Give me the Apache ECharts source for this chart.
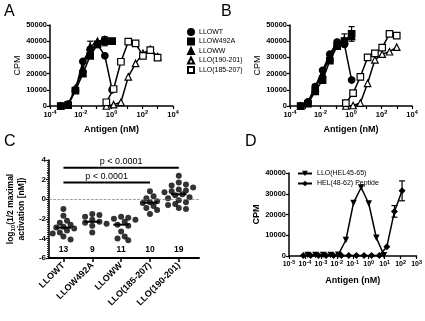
<!DOCTYPE html>
<html>
<head>
<meta charset="utf-8">
<script src="https://cdn.jsdelivr.net/npm/echarts@6/dist/echarts.min.js"></script>
<style>
  html, body { margin: 0; padding: 0; background: #fff; }
  #chart { width: 425px; height: 321px; }
</style>
</head>
<body>
<div id="chart"></div>
<script>
// doses (nM), 3-fold dilutions
const doseLLOW = [0.0005, 0.0015, 0.0045, 0.0137, 0.041, 0.123, 0.37, 1.1];
const dosePep = [0.46, 1.37, 4.1, 12.3, 37, 111, 333, 1000];

// panel A (CPM)
const aWT = [0, 1200, 10000, 27500, 35000, 38000, 31000, 10000];
const aW492A = [0, 500, 9500, 20000, 31000, 38000, 40000, 40000];
const aWW = [0, 800, 11000, 23000, 36500, 40000, 41000];
const a190 = [0, 800, 2300, 18000, 26300, 32500, 35000, 30500];
const a185 = [2300, 10500, 27300, 39700, 38700, 31000, 34500, 29800];
const aW492Aerr = [0, 0, 0, 0, 0, 0, 2800, 0];
const aWWerr = [0, 0, 0, 0, 3500, 0, 0];

// panel B (CPM)
const bWT = [0, 2500, 12000, 22000, 32000, 39500, 38000, 16000];
const bW492A = [0, 1500, 9000, 16000, 28000, 37000, 40000, 44500];
const bWW = [0, 2000, 11000, 20000, 30000, 38000, 41000, 43000];
const b190 = [0, 300, 1800, 14000, 28500, 32000, 33500, 36300];
const b185 = [1800, 8000, 18000, 30000, 32500, 36000, 44500, 43500];
const bW492Aerr = [0, 0, 0, 0, 0, 0, 0, 4500];
const bWWerr = [0, 0, 0, 3000, 0, 0, 3500, 0];

// panel C: log10(1/2 maximal activation [nM])
const cCats = ['LLOWT', 'LLOW492A', 'LLOWW', 'LLO(185-207)', 'LLO(190-201)'];
const cWT = [-1.0, -1.7, -2.2, -2.4, -2.6, -2.8, -2.9, -3.0, -3.2, -3.4, -3.5, -3.8, -4.1];
const cW492A = [-1.5, -1.6, -1.8, -2.1, -2.3, -2.4, -2.5, -2.7, -3.4];
const cWW = [-1.8, -1.9, -2.0, -2.1, -2.3, -2.6, -2.7, -3.3, -3.8, -4.0, -4.2];
const c185 = [0.8, 0.3, 0.1, -0.2, -0.3, -0.4, -0.7, -0.9, -1.1, -1.5];
const c190 = [2.4, 1.7, 1.5, 1.4, 1.2, 1.0, 0.9, 0.8, 0.7, 0.5, 0.4, 0.2, 0.1, -0.1, -0.3, -0.5, -0.6, -0.9, -1.0];
const cGroups = [cWT, cW492A, cWW, c185, c190];
const pBrackets = [[1, 5, 3.2], [1, 4, 1.7]];
const pTexts = ['p < 0.0001', 'p < 0.0001'];

// panel D (CPM)
const doseHELLLO = [0.00015, 0.00046, 0.00137, 0.0041, 0.0123, 0.037, 0.111, 0.333, 1, 3, 9];
const dLLO = [500, 500, 500, 500, 600, 7700, 25600, 33000, 25300, 8800, 400];
const doseHELpep = [0.000078, 0.00023, 0.0007, 0.0021, 0.0063, 0.019, 0.056, 0.17, 0.51, 1.5, 4.6, 13.7, 41, 123];
const dHEL = [300, 300, 300, 300, 300, 300, 300, 300, 300, 300, 200, 4500, 21500, 31400];
const dHELerr = [0, 0, 0, 0, 0, 0, 0, 0, 0, 0, 0, 0, 2800, 4800];

const FONT = "'Liberation Sans', Arial, sans-serif";
const lg = Math.log10;
const pairs = (dose, vals) => vals.map((v, i) => [lg(dose[i]), v]);
const errData = (dose, vals, errs) => vals.map((v, i) => [lg(dose[i]), v - errs[i], v + errs[i]]).filter((d, i) => errs[i] > 0);

const supRich = {
  s: { fontSize: 5.5, fontWeight: 'bold', fontFamily: FONT, verticalAlign: 'bottom', padding: [0, 0, 5, 0] }
};
const powLabel = v => '10{s|' + v + '}';

function xLog(grid, min, max, labelStep, fs) {
  const ticks = [];
  for (let t = min; t <= max; t++) ticks.push(t);
  return {
    type: 'value', gridIndex: grid, min: min, max: max, interval: labelStep,
    name: 'Antigen (nM)', nameLocation: 'middle', nameGap: 19,
    nameTextStyle: { fontFamily: FONT, fontSize: 9, fontWeight: 'bold', color: '#000' },
    axisLine: { onZero: false, lineStyle: { color: '#000', width: 1.5 } },
    axisTick: { customValues: ticks, length: 3, lineStyle: { color: '#000', width: 1.2 } },
    axisLabel: { formatter: powLabel, fontFamily: FONT, fontSize: fs, fontWeight: 'bold', color: '#000', margin: 3, rich: supRich },
    splitLine: { show: false }
  };
}

function yCPM(grid, max, bold) {
  return {
    type: 'value', gridIndex: grid, min: 0, max: max, interval: 10000,
    name: 'CPM', nameLocation: 'middle', nameGap: 27,
    nameTextStyle: { fontFamily: FONT, fontSize: 9, fontWeight: bold ? 'bold' : 'normal', color: '#000' },
    axisLine: { show: true, onZero: false, lineStyle: { color: '#000', width: 1.5 } },
    axisTick: { show: true, length: 3, lineStyle: { color: '#000', width: 1.2 } },
    axisLabel: { formatter: v => String(v), fontFamily: FONT, fontSize: 7.5, fontWeight: 'bold', color: '#000', margin: 3 },
    splitLine: { show: false }
  };
}

const markers = {
  'LLOWT': { symbol: 'circle', fill: '#000' },
  'LLOW492A': { symbol: 'rect', fill: '#000' },
  'LLOWW': { symbol: 'triangle', fill: '#000' },
  'LLO(190-201)': { symbol: 'triangle', fill: '#fff' },
  'LLO(185-207)': { symbol: 'rect', fill: '#fff' }
};

function curve(name, grid, data) {
  const m = markers[name];
  return {
    type: 'line', name: name, xAxisIndex: grid, yAxisIndex: grid, data: data,
    symbol: m.symbol, symbolSize: 6.5, showAllSymbol: true,
    lineStyle: { color: '#000', width: 1.5 },
    itemStyle: { color: m.fill, borderColor: '#000', borderWidth: 1.2 },
    z: m.fill === '#fff' ? 4 : 3
  };
}

function errItem(params, api) {
  const x = api.value(0);
  const lo = api.coord([x, api.value(1)]);
  const hi = api.coord([x, api.value(2)]);
  const w = 3;
  const st = { stroke: '#000', lineWidth: 1.2 };
  return {
    type: 'group', children: [
      { type: 'line', shape: { x1: lo[0], y1: lo[1], x2: hi[0], y2: hi[1] }, style: st },
      { type: 'line', shape: { x1: hi[0] - w, y1: hi[1], x2: hi[0] + w, y2: hi[1] }, style: st },
      { type: 'line', shape: { x1: lo[0] - w, y1: lo[1], x2: lo[0] + w, y2: lo[1] }, style: st }
    ]
  };
}
function errSeries(grid, data) {
  return { type: 'custom', xAxisIndex: grid, yAxisIndex: grid, data: data, renderItem: errItem, z: 2, silent: true };
}

// simple beeswarm layout for panel C dots (pixel-space spacing)
const pxPerX = 29, pxPerY = 9.8, dotD = 6;
const cDots = [];
cGroups.forEach((vals, gi) => {
  const placed = [];
  vals.slice().sort((a, b) => b - a).forEach(v => {
    for (let k = 0; k < 20; k++) {
      const off = (k % 2 ? 1 : -1) * Math.ceil(k / 2) * dotD * 0.6;
      const ok = placed.every(p => Math.hypot(p[0] - off, (p[1] - v) * pxPerY) >= dotD * 0.85);
      if (ok) { placed.push([off, v]); cDots.push([gi + 1 + off / pxPerX, v]); break; }
    }
  });
});
const median = arr => {
  const s = arr.slice().sort((a, b) => a - b), n = s.length;
  return n % 2 ? s[(n - 1) / 2] : (s[n / 2 - 1] + s[n / 2]) / 2;
};
const cMedians = cGroups.map((g, i) => [i + 1, median(g)]);
const cCounts = cGroups.map((g, i) => [i + 1, -5.1, g.length]);

const chart = echarts.init(document.getElementById('chart'), null, { renderer: 'canvas' });
chart.setOption({
  animation: false,
  backgroundColor: '#fff',
  textStyle: { fontFamily: FONT },
  grid: [
    { left: 50, top: 25, width: 123, height: 81 },
    { left: 290, top: 25, width: 122, height: 81 },
    { left: 49, top: 160, width: 150, height: 98 },
    { left: 289, top: 173, width: 130, height: 83 }
  ],
  xAxis: [
    xLog(0, -4, 4, 2, 7.5),
    xLog(1, -4, 4, 2, 7.5),
    {
      type: 'value', gridIndex: 2, min: 0.5, max: 5.7,
      axisLine: { onZero: false, lineStyle: { color: '#000', width: 2 } },
      axisTick: { customValues: [1, 2, 3, 4, 5], length: 4, lineStyle: { color: '#000', width: 1.5 } },
      axisLabel: {
        customValues: [1, 2, 3, 4, 5], formatter: v => cCats[Math.round(v) - 1],
        rotate: 45, fontFamily: FONT, fontSize: 9, fontWeight: 'bold', color: '#000', margin: 6
      },
      splitLine: { show: false }
    },
    Object.assign(xLog(3, -5, 3, 1, 7), { nameGap: 20 })
  ],
  yAxis: [
    yCPM(0, 50000, false),
    yCPM(1, 50000, false),
    {
      type: 'value', gridIndex: 2, min: -6, max: 4, interval: 2,
      name: '{n|log}{sub|10}{n|(1/2 maximal}\n{n|activation [nM])}',
      nameLocation: 'middle', nameGap: 22,
      nameTextStyle: {
        color: '#000', lineHeight: 11,
        rich: {
          n: { fontFamily: FONT, fontSize: 8.5, fontWeight: 'bold', color: '#000' },
          sub: { fontFamily: FONT, fontSize: 6, fontWeight: 'bold', color: '#000', verticalAlign: 'top', padding: [5, 0, 0, 0] }
        }
      },
      axisLine: { show: true, onZero: false, lineStyle: { color: '#000', width: 1.5 } },
      axisTick: { show: true, length: 3, lineStyle: { color: '#000', width: 1.2 } },
      minorTick: { show: true, splitNumber: 10, length: 2, lineStyle: { color: '#000', width: 0.8 } },
      axisLabel: { fontFamily: FONT, fontSize: 8, fontWeight: 'bold', color: '#000', margin: 3 },
      splitLine: { show: false }
    },
    yCPM(3, 40000, true)
  ],
  legend: [
    {
      orient: 'vertical', left: 182, top: 23, itemWidth: 6, itemHeight: 6, itemGap: 1.5,
      textStyle: { fontFamily: FONT, fontSize: 7, color: '#000' },
      data: Object.keys(markers).map(n => ({ name: n, icon: markers[n].symbol }))
    },
    {
      orient: 'vertical', left: 292, top: 165, itemWidth: 14, itemHeight: 7, itemGap: 3,
      textStyle: { fontFamily: FONT, fontSize: 7, color: '#000' },
      data: ['LLO(HEL45-65)', 'HEL(48-62) Peptide']
    }
  ],
  graphic: [
    { type: 'text', left: 4, top: 4, style: { text: 'A', fontFamily: FONT, fontSize: 16, fill: '#000' } },
    { type: 'text', left: 221, top: 4, style: { text: 'B', fontFamily: FONT, fontSize: 16, fill: '#000' } },
    { type: 'text', left: 4, top: 134, style: { text: 'C', fontFamily: FONT, fontSize: 16, fill: '#000' } },
    { type: 'text', left: 245, top: 134, style: { text: 'D', fontFamily: FONT, fontSize: 16, fill: '#000' } }
  ],
  series: [
    // A
    curve('LLOWT', 0, pairs(doseLLOW, aWT)),
    curve('LLOW492A', 0, pairs(doseLLOW, aW492A)),
    curve('LLOWW', 0, pairs(doseLLOW, aWW)),
    curve('LLO(190-201)', 0, pairs(dosePep, a190)),
    curve('LLO(185-207)', 0, pairs(dosePep, a185)),
    errSeries(0, errData(doseLLOW, aW492A, aW492Aerr).concat(errData(doseLLOW, aWW, aWWerr))),
    // B
    curve('LLOWT', 1, pairs(doseLLOW, bWT)),
    curve('LLOW492A', 1, pairs(doseLLOW, bW492A)),
    curve('LLOWW', 1, pairs(doseLLOW, bWW)),
    curve('LLO(190-201)', 1, pairs(dosePep, b190)),
    curve('LLO(185-207)', 1, pairs(dosePep, b185)),
    errSeries(1, errData(doseLLOW, bW492A, bW492Aerr).concat(errData(doseLLOW, bWW, bWWerr))),
    // C
    {
      type: 'scatter', xAxisIndex: 2, yAxisIndex: 2, data: cDots,
      symbol: 'circle', symbolSize: 6, itemStyle: { color: '#000' },
      markLine: {
        silent: true, symbol: 'none', label: { show: false },
        lineStyle: { color: '#777', type: 'dashed', width: 0.7 },
        data: [{ yAxis: 0 }]
      }
    },
    {
      type: 'custom', xAxisIndex: 2, yAxisIndex: 2, data: cMedians, silent: true, z: 4,
      renderItem: (params, api) => {
        const a = api.coord([api.value(0) - 0.27, api.value(1)]);
        const b = api.coord([api.value(0) + 0.27, api.value(1)]);
        return { type: 'line', shape: { x1: a[0], y1: a[1], x2: b[0], y2: b[1] }, style: { stroke: '#000', lineWidth: 2 } };
      }
    },
    {
      type: 'custom', xAxisIndex: 2, yAxisIndex: 2, data: pBrackets, silent: true,
      renderItem: (params, api) => {
        const a = api.coord([api.value(0), api.value(2)]);
        const b = api.coord([api.value(1), api.value(2)]);
        return {
          type: 'group', children: [
            { type: 'line', shape: { x1: a[0], y1: a[1], x2: b[0], y2: b[1] }, style: { stroke: '#000', lineWidth: 2 } },
            { type: 'text', x: (a[0] + b[0]) / 2, y: a[1] - 2,
              style: { text: pTexts[params.dataIndex], fontFamily: FONT, fontSize: 9, fill: '#000', align: 'center', verticalAlign: 'bottom' } }
          ]
        };
      }
    },
    {
      type: 'custom', xAxisIndex: 2, yAxisIndex: 2, data: cCounts, silent: true,
      renderItem: (params, api) => {
        const p = api.coord([api.value(0), api.value(1)]);
        return { type: 'text', x: p[0], y: p[1],
          style: { text: String(api.value(2)), fontFamily: FONT, fontSize: 8.5, fontWeight: 'bold', fill: '#000', align: 'center', verticalAlign: 'middle' } };
      }
    },
    // D
    {
      type: 'line', name: 'LLO(HEL45-65)', xAxisIndex: 3, yAxisIndex: 3, data: pairs(doseHELLLO, dLLO),
      symbol: 'triangle', symbolRotate: 180, symbolSize: 6.5, showAllSymbol: true,
      lineStyle: { color: '#000', width: 1.5 }, itemStyle: { color: '#000' }
    },
    {
      type: 'line', name: 'HEL(48-62) Peptide', xAxisIndex: 3, yAxisIndex: 3, data: pairs(doseHELpep, dHEL),
      symbol: 'diamond', symbolSize: 7, showAllSymbol: true,
      lineStyle: { color: '#000', width: 1.5 }, itemStyle: { color: '#000' }
    },
    errSeries(3, errData(doseHELpep, dHEL, dHELerr))
  ]
});
</script>
</body>
</html>
